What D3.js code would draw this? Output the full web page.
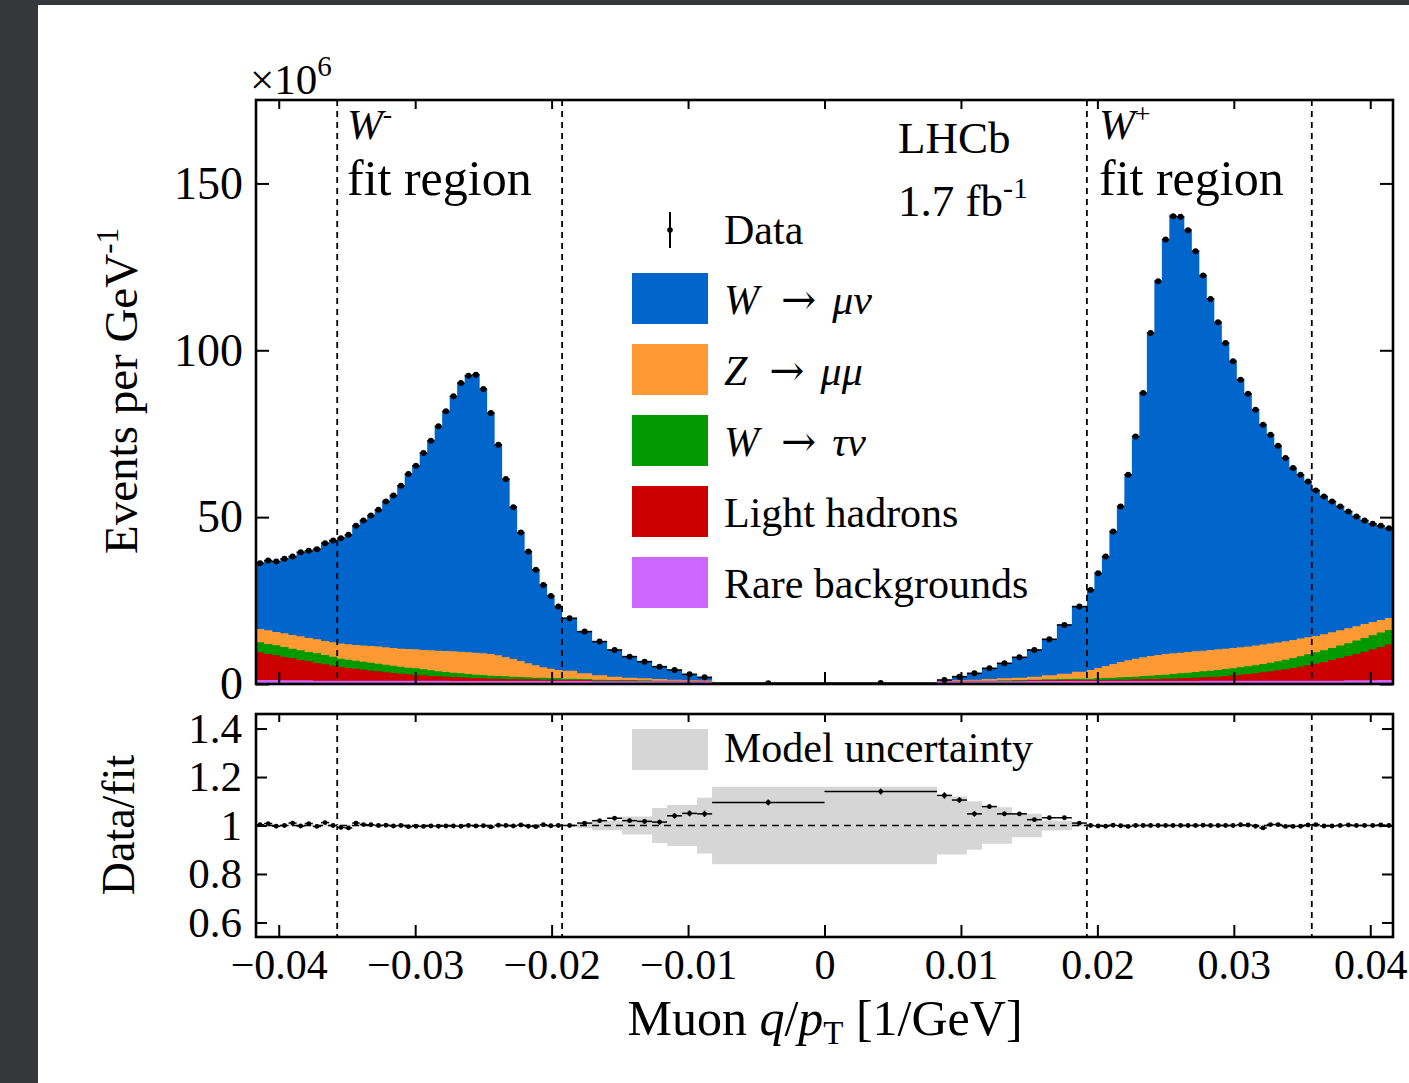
<!DOCTYPE html>
<html><head><meta charset="utf-8">
<script src="https://cdn.jsdelivr.net/npm/d3@7"></script>
<style>
html,body{margin:0;padding:0;background:#35373a;overflow:hidden;}
#wrap{position:absolute;left:38px;top:5px;width:1371px;height:1078px;background:#fff;}
svg{position:absolute;left:0;top:0;}
text{font-family:"Liberation Serif","Times New Roman",serif;fill:#000;}
</style></head><body>
<div id="wrap"></div>
<svg id="chart" width="1409" height="1083"></svg>
<script>
// ---------------- DATA (values in units of 10^6 events per GeV^-1) ----------------
// bin segment boundaries in q/pT [1/GeV] and number of equal bins in each segment
const edgeBounds = [-1/24, -1/28, -1/52, -0.00824, 0, 0.00824, 1/52, 1/28, 1/24];
const binsPerSegment = [10, 30, 10, 1, 1, 10, 30, 10];
const fitBounds = [-1/28, -1/52, 1/52, 1/28];
const xTickValues = [-0.04, -0.03, -0.02, -0.01, 0, 0.01, 0.02, 0.03, 0.04];
const yTickValues = [0, 50, 100, 150];
const ratioTickValues = [0.6, 0.8, 1, 1.2, 1.4];

const dataVals = [
  36.2, 37.0, 36.7, 37.5, 38.2, 39.5, 39.9, 40.4, 42.2, 43.0,
  43.7, 44.7, 47.4, 49.0, 50.5, 52.2, 54.7, 56.5, 59.4, 62.9, 65.4, 69.2, 72.9, 77.2, 81.7,
  86.2, 90.2, 92.4, 92.7, 88.4, 81.2, 71.7, 61.4, 53.0, 45.4, 39.7, 34.2, 29.7, 26.4, 23.2,
  19.7, 15.7, 12.7, 10.2, 8.2, 6.7, 5.2, 4.2, 2.9, 2.0,
  0.25,
  0.3,
  1.2, 2.2, 3.2, 4.7, 6.2, 8.0, 10.2, 13.4, 17.7, 23.2,
  28.2, 33.2, 38.2, 45.7, 53.2, 62.7, 74.2, 87.2, 105.2, 120.7, 133.2, 140.2, 140.0, 136.0, 129.7,
  122.4, 115.4, 108.4, 102.2, 96.7, 91.2, 87.0, 82.2, 77.7, 74.7, 71.4, 67.7, 64.7, 62.7, 60.7,
  58.0, 56.2, 54.7, 53.2, 51.7, 50.2, 49.0, 48.0, 47.4, 46.7
];
const wmunu = [
  19.7, 20.9, 21.1, 22.3, 23.5, 25.2, 26.1, 27.0, 29.3, 30.5,
  31.6, 32.8, 35.7, 37.5, 39.1, 41.0, 43.7, 45.7, 48.8, 52.4, 55.0, 59.0, 62.8, 67.2, 71.8,
  76.4, 80.5, 82.9, 83.3, 79.2, 72.2, 63.1, 53.3, 45.5, 38.5, 33.5, 28.6, 24.7, 21.8, 19.0,
  15.7, 12.5, 10.1, 8.0, 6.3, 5.0, 3.7, 2.9, 1.7, 0.9,
  0.03,
  0.08,
  0.1, 1.0, 1.9, 3.2, 4.5, 6.1, 8.0, 10.8, 14.6, 19.5,
  24.0, 28.4, 32.8, 39.7, 46.6, 55.6, 66.6, 79.2, 96.8, 112.0, 124.2, 131.0, 130.6, 126.4, 119.9,
  112.4, 105.2, 98.0, 91.6, 85.9, 80.2, 75.8, 70.7, 65.9, 62.6, 59.0, 54.9, 51.5, 49.1, 46.7,
  43.6, 41.3, 39.2, 37.1, 35.0, 32.9, 31.0, 29.4, 28.2, 26.9
];
const zmumu = [
  4.0, 4.1, 4.0, 4.1, 4.1, 4.2, 4.2, 4.2, 4.2, 4.3,
  4.5, 4.6, 4.7, 4.8, 5.0, 5.1, 5.2, 5.3, 5.4, 5.6, 5.7, 5.8, 6.0, 6.2, 6.3,
  6.4, 6.5, 6.5, 6.6, 6.5, 6.5, 6.2, 5.8, 5.3, 4.8, 4.2, 3.7, 3.1, 2.8, 2.4,
  2.4, 1.7, 1.3, 1.0, 0.7, 0.6, 0.5, 0.3, 0.2, 0.1,
  0.02,
  0.02,
  0.1, 0.2, 0.3, 0.5, 0.6, 0.7, 0.9, 1.2, 1.6, 2.1,
  2.6, 3.1, 3.6, 4.1, 4.6, 5.0, 5.4, 5.6, 5.9, 6.0, 6.2, 6.2, 6.2, 6.2, 6.2,
  6.2, 6.2, 6.2, 6.1, 6.1, 6.0, 5.9, 5.9, 5.8, 5.7, 5.6, 5.5, 5.4, 5.3, 5.1,
  4.9, 4.8, 4.7, 4.6, 4.5, 4.3, 4.2, 4.0, 3.8, 3.6
];
const wtaunu = [
  3.0, 3.0, 3.0, 3.0, 2.9, 2.9, 2.8, 2.9, 2.8, 2.7,
  2.5, 2.5, 2.4, 2.4, 2.4, 2.3, 2.3, 2.2, 2.1, 2.0, 2.0, 1.8, 1.7, 1.5, 1.4,
  1.3, 1.2, 1.1, 1.0, 1.0, 0.9, 0.8, 0.8, 0.7, 0.7, 0.6, 0.5, 0.6, 0.5, 0.5,
  0.4, 0.3, 0.3, 0.2, 0.2, 0.2, 0.1, 0.1, 0.1, 0.1,
  0,
  0,
  0.1, 0.1, 0.1, 0.1, 0.2, 0.2, 0.2, 0.3, 0.3, 0.4,
  0.4, 0.5, 0.6, 0.6, 0.7, 0.8, 0.8, 1.0, 1.0, 1.2, 1.2, 1.4, 1.5, 1.6, 1.7,
  1.8, 1.9, 2.0, 2.1, 2.1, 2.2, 2.3, 2.4, 2.5, 2.6, 2.7, 2.9, 3.0, 3.1, 3.3,
  3.4, 3.5, 3.6, 3.7, 3.8, 4.0, 4.1, 4.2, 4.3, 4.4
];
const lightHadrons = [
  8.3, 7.8, 7.4, 7.0, 6.6, 6.1, 5.7, 5.3, 4.9, 4.5,
  4.1, 3.8, 3.6, 3.3, 3.0, 2.8, 2.5, 2.3, 2.1, 1.9, 1.7, 1.6, 1.4, 1.3, 1.2,
  1.2, 1.1, 1.0, 0.9, 0.8, 0.7, 0.7, 0.6, 0.6, 0.5, 0.5, 0.5, 0.4, 0.4, 0.4,
  0.3, 0.3, 0.2, 0.2, 0.2, 0.1, 0.1, 0.1, 0.1, 0.1,
  0,
  0,
  0.1, 0.1, 0.1, 0.1, 0.1, 0.2, 0.2, 0.2, 0.3, 0.3,
  0.3, 0.3, 0.3, 0.4, 0.4, 0.4, 0.5, 0.5, 0.6, 0.6, 0.7, 0.7, 0.8, 0.9, 1.0,
  1.0, 1.1, 1.2, 1.4, 1.6, 1.8, 2.0, 2.2, 2.5, 2.8, 3.1, 3.4, 3.8, 4.2, 4.6,
  5.1, 5.6, 6.2, 6.8, 7.3, 7.9, 8.6, 9.3, 9.9, 10.6
];
const rareBkg = [
  1.2, 1.2, 1.2, 1.1, 1.1, 1.1, 1.1, 1.0, 1.0, 1.0,
  1.0, 1.0, 1.0, 1.0, 1.0, 1.0, 1.0, 1.0, 1.0, 1.0, 1.0, 1.0, 1.0, 1.0, 1.0,
  0.9, 0.9, 0.9, 0.9, 0.9, 0.9, 0.9, 0.9, 0.9, 0.9, 0.9, 0.9, 0.9, 0.9, 0.9,
  0.9, 0.9, 0.8, 0.8, 0.8, 0.8, 0.8, 0.8, 0.8, 0.8,
  0.2,
  0.2,
  0.8, 0.8, 0.8, 0.8, 0.8, 0.8, 0.9, 0.9, 0.9, 0.9,
  0.9, 0.9, 0.9, 0.9, 0.9, 0.9, 0.9, 0.9, 0.9, 0.9, 0.9, 0.9, 0.9, 0.9, 0.9,
  1.0, 1.0, 1.0, 1.0, 1.0, 1.0, 1.0, 1.0, 1.0, 1.0, 1.0, 1.0, 1.0, 1.0, 1.0,
  1.0, 1.0, 1.0, 1.0, 1.1, 1.1, 1.1, 1.1, 1.2, 1.2
];
const ratioVals = [
  1.003, 1.008, 0.997, 1.0, 1.01, 0.998, 1.008, 0.996, 1.012, 1.0,
  0.992, 0.99, 1.01, 1.004, 1.003, 1.0, 1.001, 0.998, 1.0, 0.995, 0.997, 0.996, 0.998, 0.997, 0.998,
  0.998, 0.997, 1.0, 0.998, 0.999, 0.994, 1.001, 1.0, 0.998, 1.002, 0.997, 0.995, 1.003, 0.999, 1.0,
  1.0, 1.01, 1.02, 1.03, 1.02, 1.017, 1.014, 1.04, 1.05, 1.048,
  1.095,
  1.14,
  1.124, 1.105, 1.048, 1.078, 1.048, 1.048, 1.024, 1.032, 1.032, 1.01,
  1.0, 0.998, 0.997, 1.001, 0.999, 0.996, 1.0, 1.0, 1.0, 1.0, 1.0, 1.0, 1.0, 1.0, 1.0,
  1.001, 1.0, 1.0, 1.0, 1.0, 1.003, 1.002, 0.997, 0.99, 1.004, 1.004, 0.996, 0.996, 0.997, 1.002,
  1.004, 0.998, 0.998, 1.0, 1.002, 1.0, 1.0, 1.0, 1.002, 1.0
];
const ratioErr = [
  0.003, 0.003, 0.003, 0.003, 0.003, 0.003, 0.003, 0.003, 0.003, 0.003,
  0.003, 0.003, 0.003, 0.003, 0.003, 0.003, 0.003, 0.003, 0.003, 0.003, 0.003, 0.003, 0.003, 0.003, 0.003,
  0.003, 0.003, 0.003, 0.003, 0.003, 0.003, 0.003, 0.003, 0.003, 0.003, 0.003, 0.003, 0.003, 0.003, 0.003,
  0.004, 0.005, 0.006, 0.007, 0.008, 0.009, 0.010, 0.011, 0.012, 0.013,
  0.012,
  0.012,
  0.013, 0.012, 0.011, 0.010, 0.009, 0.008, 0.007, 0.006, 0.005, 0.004,
  0.003, 0.003, 0.003, 0.003, 0.003, 0.003, 0.003, 0.003, 0.003, 0.003, 0.003, 0.003, 0.003, 0.003, 0.003,
  0.003, 0.003, 0.003, 0.003, 0.003, 0.003, 0.003, 0.003, 0.003, 0.003, 0.003, 0.003, 0.003, 0.003, 0.003,
  0.003, 0.003, 0.003, 0.003, 0.003, 0.003, 0.003, 0.003, 0.003, 0.003
];
const modelUnc = [
  0.003, 0.003, 0.003, 0.003, 0.003, 0.003, 0.003, 0.003, 0.003, 0.003,
  0.003, 0.003, 0.003, 0.003, 0.003, 0.003, 0.003, 0.003, 0.003, 0.003, 0.003, 0.003, 0.003, 0.003, 0.003,
  0.003, 0.003, 0.003, 0.003, 0.003, 0.003, 0.003, 0.003, 0.003, 0.003, 0.003, 0.003, 0.003, 0.003, 0.003,
  0.003, 0.01, 0.02, 0.02, 0.037, 0.037, 0.072, 0.085, 0.085, 0.115,
  0.16,
  0.16,
  0.12, 0.12, 0.10, 0.075, 0.075, 0.048, 0.048, 0.021, 0.02, 0.005,
  0.003, 0.003, 0.003, 0.003, 0.003, 0.003, 0.003, 0.003, 0.003, 0.003, 0.003, 0.003, 0.003, 0.003, 0.003,
  0.003, 0.003, 0.003, 0.003, 0.003, 0.003, 0.003, 0.003, 0.003, 0.003, 0.003, 0.003, 0.003, 0.003, 0.003,
  0.003, 0.003, 0.003, 0.003, 0.003, 0.003, 0.003, 0.003, 0.003, 0.003
];

const components = [
  {key: "rare",  label: "Rare backgrounds", color: "#cc66ff", values: rareBkg},
  {key: "light", label: "Light hadrons",    color: "#cc0000", values: lightHadrons},
  {key: "wtau",  label: "W→τν",             color: "#009900", values: wtaunu},
  {key: "zmumu", label: "Z→μμ",             color: "#ff9933", values: zmumu},
  {key: "wmunu", label: "W→μν",             color: "#0066cc", values: wmunu}
];

// ---------------- BUILD ----------------
const edges = [];
binsPerSegment.forEach((n, s) => {
  const a = edgeBounds[s], b = edgeBounds[s + 1];
  for (let j = 0; j < n; j++) edges.push(a + (b - a) * j / n);
});
edges.push(edgeBounds[edgeBounds.length - 1]);

const bins = dataVals.map((v, i) => {
  const o = {x0: edges[i], x1: edges[i + 1], data: v, ratio: ratioVals[i], rerr: ratioErr[i], unc: modelUnc[i]};
  components.forEach(c => o[c.key] = c.values[i]);
  return o;
});

const svg = d3.select("#chart");
const L = 256, R = 1393, mainTop = 100, mainBot = 684, ratTop = 714, ratBot = 937;

const x = d3.scaleLinear().domain([-1/24, 1/24]).range([L, R]);
const y = d3.scaleLinear().domain([0, 175]).range([mainBot, mainTop]);
const yr = d3.scaleLinear().domain([0.54, 1.46]).range([ratBot, ratTop]);

const defs = svg.append("defs");
defs.append("clipPath").attr("id", "clipMain").append("rect")
  .attr("x", L).attr("y", mainTop).attr("width", R - L).attr("height", mainBot - mainTop);
defs.append("clipPath").attr("id", "clipRat").append("rect")
  .attr("x", L).attr("y", ratTop).attr("width", R - L).attr("height", ratBot - ratTop);

// stacked histogram
const stack = d3.stack().keys(components.map(c => c.key))(bins);
const gHist = svg.append("g").attr("clip-path", "url(#clipMain)");
const stepArea = d3.area().x(d => x(d.x)).y0(y(0)).y1(d => y(d.top));
for (let k = stack.length - 1; k >= 0; k--) {
  const layer = stack[k];
  const pts = bins.flatMap((b, i) => [{x: b.x0, top: layer[i][1]}, {x: b.x1, top: layer[i][1]}]);
  gHist.append("path").attr("d", stepArea(pts)).attr("fill", components[k].color);
}

// dashed fit-region lines
[[mainTop, mainBot], [ratTop, ratBot]].forEach(([t, b]) => {
  svg.append("g").selectAll("line").data(fitBounds).join("line")
    .attr("x1", d => x(d)).attr("x2", d => x(d)).attr("y1", t).attr("y2", b)
    .attr("stroke", "#000").attr("stroke-width", 1.8).attr("stroke-dasharray", "6,5");
});

// data points (main)
const gData = svg.append("g").attr("clip-path", "url(#clipMain)");
gData.selectAll("line.h").data(bins).join("line")
  .attr("x1", d => x(d.x0)).attr("x2", d => x(d.x1))
  .attr("y1", d => y(d.data)).attr("y2", d => y(d.data))
  .attr("stroke", "#000").attr("stroke-width", 1.6);
gData.selectAll("circle").data(bins).join("circle")
  .attr("cx", d => x((d.x0 + d.x1) / 2)).attr("cy", d => y(d.data)).attr("r", 3).attr("fill", "#000");

// ratio band
const bandArea = d3.area().x(d => x(d.x)).y0(d => yr(1 - d.u)).y1(d => yr(1 + d.u));
const bandPts = bins.flatMap(b => [{x: b.x0, u: b.unc}, {x: b.x1, u: b.unc}]);
svg.append("path").attr("clip-path", "url(#clipRat)").attr("d", bandArea(bandPts)).attr("fill", "#d6d6d6");

// ratio = 1 line
svg.append("line").attr("x1", L).attr("x2", R).attr("y1", yr(1)).attr("y2", yr(1))
  .attr("stroke", "#000").attr("stroke-width", 1.5).attr("stroke-dasharray", "7,5");

// ratio points
const gR = svg.append("g").attr("clip-path", "url(#clipRat)");
gR.selectAll("line.h").data(bins).join("line")
  .attr("x1", d => x(d.x0)).attr("x2", d => x(d.x1))
  .attr("y1", d => yr(d.ratio)).attr("y2", d => yr(d.ratio))
  .attr("stroke", "#000").attr("stroke-width", 1.5);
gR.selectAll("line.v").data(bins).join("line")
  .attr("x1", d => x((d.x0 + d.x1) / 2)).attr("x2", d => x((d.x0 + d.x1) / 2))
  .attr("y1", d => yr(d.ratio - d.rerr)).attr("y2", d => yr(d.ratio + d.rerr))
  .attr("stroke", "#000").attr("stroke-width", 1.5);
gR.selectAll("circle").data(bins).join("circle")
  .attr("cx", d => x((d.x0 + d.x1) / 2)).attr("cy", d => yr(d.ratio)).attr("r", 2.4).attr("fill", "#000");

// ---------------- AXES ----------------
function styleAxis(g, fs) {
  g.select(".domain").remove();
  g.selectAll(".tick line").attr("stroke", "#000").attr("stroke-width", 2);
  g.selectAll(".tick text").attr("font-family", "Liberation Serif, serif").attr("font-size", fs).attr("fill", "#000");
}
const minus = v => (v < 0 ? "\u2212" : "") + Math.abs(v);

svg.append("g").attr("transform", `translate(0,${mainBot})`)
  .call(d3.axisBottom(x).tickValues(xTickValues).tickSize(-12).tickFormat("")).call(g => styleAxis(g, 40));
svg.append("g").attr("transform", `translate(0,${mainTop})`)
  .call(d3.axisTop(x).tickValues(xTickValues).tickSize(-9).tickFormat("")).call(g => styleAxis(g, 40));
svg.append("g").attr("transform", `translate(${L},0)`)
  .call(d3.axisLeft(y).tickValues(yTickValues).tickSize(-13).tickPadding(13)).call(g => styleAxis(g, 46));
svg.append("g").attr("transform", `translate(${R},0)`)
  .call(d3.axisRight(y).tickValues(yTickValues).tickSize(-13).tickFormat("")).call(g => styleAxis(g, 44));

svg.append("g").attr("transform", `translate(0,${ratBot})`)
  .call(d3.axisBottom(x).tickValues(xTickValues).tickSize(-12).tickPadding(12).tickFormat(minus)).call(g => styleAxis(g, 42));
svg.append("g").attr("transform", `translate(0,${ratTop})`)
  .call(d3.axisTop(x).tickValues(xTickValues).tickSize(-8).tickFormat("")).call(g => styleAxis(g, 40));
svg.append("g").attr("transform", `translate(${L},0)`)
  .call(d3.axisLeft(yr).tickValues(ratioTickValues).tickSize(-11).tickPadding(14)
    .tickFormat(d => d === 1 ? "1" : d3.format(".1f")(d))).call(g => styleAxis(g, 43));
svg.append("g").attr("transform", `translate(${R},0)`)
  .call(d3.axisRight(yr).tickValues(ratioTickValues).tickSize(-11).tickFormat("")).call(g => styleAxis(g, 40));

// frames
[[mainTop, mainBot], [ratTop, ratBot]].forEach(([t, b]) => {
  svg.append("rect").attr("x", L).attr("y", t).attr("width", R - L).attr("height", b - t)
    .attr("fill", "none").attr("stroke", "#000").attr("stroke-width", 2.6);
});

// ---------------- TEXT ----------------
function rich(parent, parts, attrs) {
  const t = parent.append("text");
  Object.entries(attrs).forEach(([k, v]) => t.attr(k, v));
  parts.forEach(p => {
    const s = t.append("tspan").text(p.t);
    if (p.i) s.attr("font-style", "italic");
    if (p.fs) s.attr("font-size", p.fs);
    if (p.dy) s.attr("dy", p.dy);
    if (p.dx) s.attr("dx", p.dx);
    if (p.ff) s.attr("font-family", p.ff);
  });
  return t;
}

rich(svg, [{t: "×10"}, {t: "6", fs: 29, dy: -18}], {x: 250, y: 94, "font-size": 43});

rich(svg, [{t: "W", i: true}, {t: "-", fs: 28, dy: -16}], {x: 347, y: 139, "font-size": 43});
svg.append("text").attr("x", 347).attr("y", 195).attr("font-size", 50).text("fit region");
rich(svg, [{t: "W", i: true}, {t: "+", fs: 28, dy: -16}], {x: 1099, y: 139, "font-size": 43});
svg.append("text").attr("x", 1099).attr("y", 195).attr("font-size", 50).text("fit region");

svg.append("text").attr("x", 898).attr("y", 153).attr("font-size", 45).text("LHCb");
rich(svg, [{t: "1.7 fb"}, {t: "-1", fs: 30, dy: -18}], {x: 898, y: 216, "font-size": 45});

// legend
const lgX = 632, lgW = 76, lgTextX = 724, lgFs = 42;
const arrowFont = "DejaVu Serif, serif";
svg.append("line").attr("x1", 670).attr("x2", 670).attr("y1", 212).attr("y2", 248).attr("stroke", "#000").attr("stroke-width", 2);
svg.append("circle").attr("cx", 670).attr("cy", 230).attr("r", 2.8).attr("fill", "#000");
svg.append("text").attr("x", lgTextX).attr("y", 244).attr("font-size", lgFs).text("Data");

const legendItems = [
  {c: components[4], top: 273, parts: [{t: "W", i: true}, {t: "\u2192", ff: arrowFont, fs: 42, dx: 22}, {t: "μν", i: true, dx: 16}]},
  {c: components[3], top: 344, parts: [{t: "Z", i: true}, {t: "\u2192", ff: arrowFont, fs: 42, dx: 22}, {t: "μμ", i: true, dx: 16}]},
  {c: components[2], top: 415, parts: [{t: "W", i: true}, {t: "\u2192", ff: arrowFont, fs: 42, dx: 22}, {t: "τν", i: true, dx: 16}]},
  {c: components[1], top: 486, parts: [{t: "Light hadrons"}]},
  {c: components[0], top: 557, parts: [{t: "Rare backgrounds"}]}
];
legendItems.forEach(it => {
  svg.append("rect").attr("x", lgX).attr("y", it.top).attr("width", lgW).attr("height", 51).attr("fill", it.c.color);
  rich(svg, it.parts, {x: lgTextX, y: it.top + 41, "font-size": lgFs});
});
svg.append("rect").attr("x", lgX).attr("y", 729).attr("width", lgW).attr("height", 41).attr("fill", "#d6d6d6");
svg.append("text").attr("x", lgTextX).attr("y", 762).attr("font-size", lgFs).text("Model uncertainty");

// axis titles
rich(svg, [{t: "Events per GeV"}, {t: "-1", fs: 31, dy: -19}],
  {transform: "translate(137,391) rotate(-90)", "text-anchor": "middle", "font-size": 47});
svg.append("text").attr("transform", "translate(134,825) rotate(-90)").attr("text-anchor", "middle")
  .attr("font-size", 46).text("Data/fit");
rich(svg, [{t: "Muon "}, {t: "q", i: true}, {t: "/"}, {t: "p", i: true}, {t: "T", fs: 33, dy: 9}, {t: " [1/GeV]", dy: -9}],
  {x: 825, y: 1035, "text-anchor": "middle", "font-size": 50});
</script>
</body></html>
